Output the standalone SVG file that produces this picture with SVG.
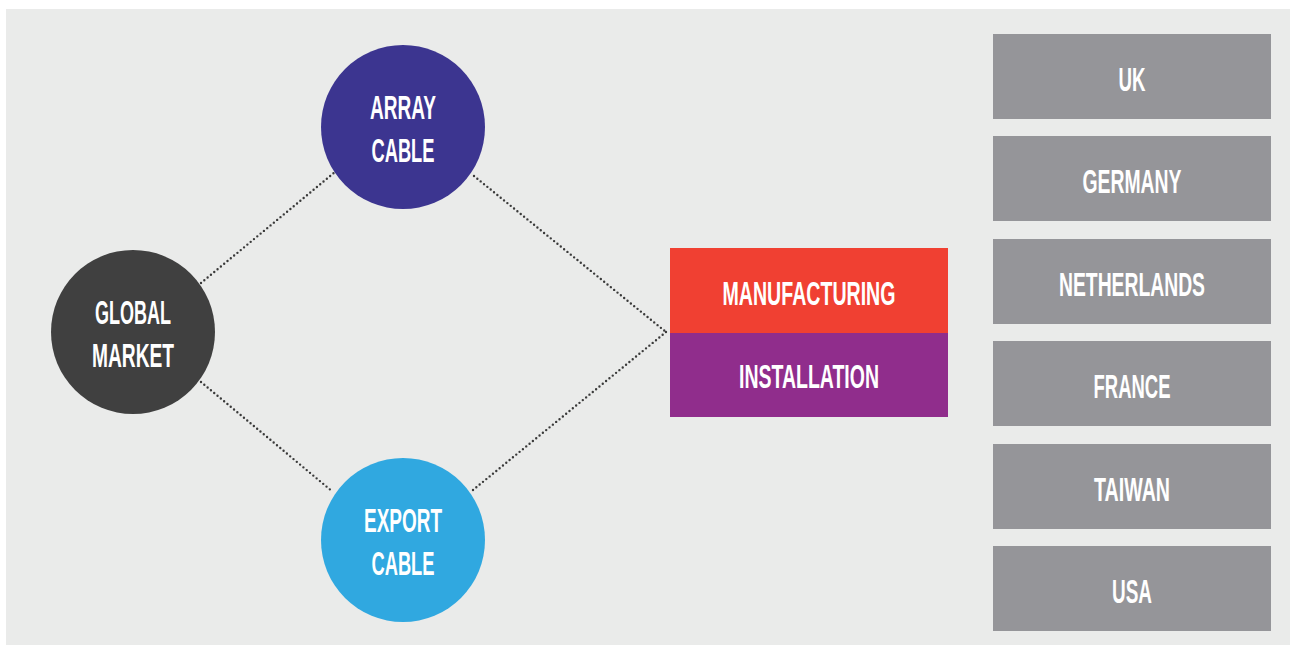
<svg xmlns="http://www.w3.org/2000/svg" width="1292" height="648" viewBox="0 0 1292 648">
  <style>
    .lbl { font-family: "Liberation Sans Narrow", "Liberation Sans", Arial, sans-serif; font-weight: bold; font-size: 33px; fill: #ffffff; text-anchor: middle; }
    .dot { fill: none; stroke: #3a3a3a; stroke-width: 2.4; stroke-linecap: round; stroke-dasharray: 0 4.3; }
    .country { fill: #959599; }
  </style>
  <rect x="0" y="0" width="1292" height="648" fill="#ffffff"/>
  <rect x="6" y="9" width="1284" height="636" fill="#eaebea"/>

  <g id="connectors">
    <line class="dot" x1="201" y1="283" x2="335" y2="172"/>
    <line class="dot" x1="201" y1="382" x2="333" y2="492"/>
    <line class="dot" x1="474" y1="176" x2="666" y2="332"/>
    <line class="dot" x1="473" y1="490" x2="666" y2="332"/>
  </g>

  <g id="global-market">
    <circle cx="133" cy="332" r="82" fill="#404040"/>
    <text class="lbl" x="133" y="324" textLength="76" lengthAdjust="spacingAndGlyphs">GLOBAL</text>
    <text class="lbl" x="133" y="367" textLength="82" lengthAdjust="spacingAndGlyphs">MARKET</text>
  </g>

  <g id="array-cable">
    <circle cx="403" cy="127" r="82" fill="#3c3590"/>
    <text class="lbl" x="403" y="119" textLength="66" lengthAdjust="spacingAndGlyphs">ARRAY</text>
    <text class="lbl" x="403" y="162" textLength="63" lengthAdjust="spacingAndGlyphs">CABLE</text>
  </g>

  <g id="export-cable">
    <circle cx="403" cy="540" r="82" fill="#30a8e0"/>
    <text class="lbl" x="403" y="532" textLength="78" lengthAdjust="spacingAndGlyphs">EXPORT</text>
    <text class="lbl" x="403" y="575" textLength="63" lengthAdjust="spacingAndGlyphs">CABLE</text>
  </g>

  <g id="manufacturing">
    <rect x="670" y="248" width="278" height="85" fill="#f04032"/>
    <text class="lbl" x="809" y="305" textLength="173" lengthAdjust="spacingAndGlyphs">MANUFACTURING</text>
  </g>

  <g id="installation">
    <rect x="670" y="333" width="278" height="84" fill="#902d8c"/>
    <text class="lbl" x="809" y="388" textLength="140" lengthAdjust="spacingAndGlyphs">INSTALLATION</text>
  </g>

  <g id="uk">
    <rect class="country" x="993" y="34" width="278" height="85"/>
    <text class="lbl" x="1132" y="91" textLength="27" lengthAdjust="spacingAndGlyphs">UK</text>
  </g>
  <g id="germany">
    <rect class="country" x="993" y="136" width="278" height="85"/>
    <text class="lbl" x="1132" y="193" textLength="99" lengthAdjust="spacingAndGlyphs">GERMANY</text>
  </g>
  <g id="netherlands">
    <rect class="country" x="993" y="239" width="278" height="85"/>
    <text class="lbl" x="1132" y="296" textLength="146" lengthAdjust="spacingAndGlyphs">NETHERLANDS</text>
  </g>
  <g id="france">
    <rect class="country" x="993" y="341" width="278" height="85"/>
    <text class="lbl" x="1132" y="398" textLength="77" lengthAdjust="spacingAndGlyphs">FRANCE</text>
  </g>
  <g id="taiwan">
    <rect class="country" x="993" y="444" width="278" height="85"/>
    <text class="lbl" x="1132" y="501" textLength="76" lengthAdjust="spacingAndGlyphs">TAIWAN</text>
  </g>
  <g id="usa">
    <rect class="country" x="993" y="546" width="278" height="85"/>
    <text class="lbl" x="1132" y="603" textLength="40" lengthAdjust="spacingAndGlyphs">USA</text>
  </g>
</svg>
